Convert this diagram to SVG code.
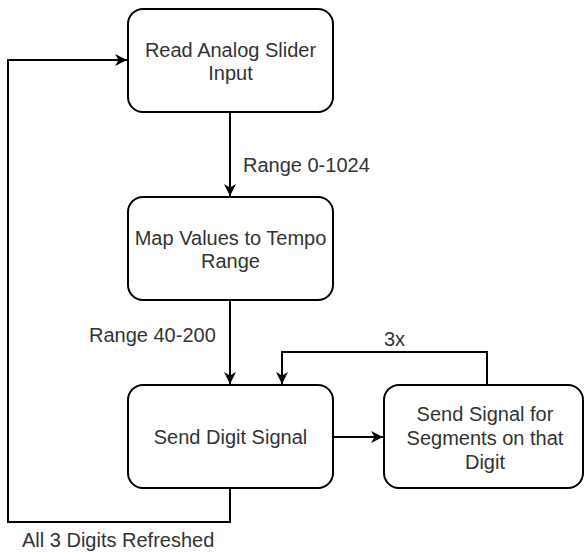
<svg xmlns="http://www.w3.org/2000/svg" width="584" height="552" viewBox="0 0 584 552">
<style>
.box{fill:#fff;stroke:#000;stroke-width:2}
.t{font-family:"Liberation Sans",Arial,sans-serif;font-size:20px;fill:#333;text-anchor:middle}
.l{font-family:"Liberation Sans",Arial,sans-serif;font-size:20px;fill:#333}
.c{fill:none;stroke:#000;stroke-width:2}
</style>
<defs>
<marker id="a" viewBox="0 0 10 10" refX="10" refY="5" markerWidth="12" markerHeight="12" markerUnits="userSpaceOnUse" orient="auto">
<path d="M0,0 L10,5 L0,10 L3,5 Z" fill="#000"/>
</marker>
</defs>
<rect width="584" height="552" fill="#fff"/>
<g id="connectors">
<path class="c" d="M230,112 V196" marker-end="url(#a)"/>
<path class="c" d="M230,300 V384" marker-end="url(#a)"/>
<path class="c" d="M487,385 V352 H282 V384" marker-end="url(#a)"/>
<path class="c" d="M333,437 H383" marker-end="url(#a)"/>
<path class="c" d="M230,488 V522 H8 V60 H127" marker-end="url(#a)"/>
<text class="l" x="243" y="172">Range 0-1024</text>
<text class="l" x="89" y="342">Range 40-200</text>
<text class="l" x="384" y="346">3x</text>
<text class="l" x="22" y="547">All 3 Digits Refreshed</text>
</g>
<g id="n1">
<rect class="box" x="128" y="9" width="205" height="103" rx="15"/>
<text class="t" x="230.5" y="57">Read Analog Slider</text>
<text class="t" x="230.5" y="80">Input</text>
</g>
<g id="n2">
<rect class="box" x="128" y="197" width="205" height="103" rx="15"/>
<text class="t" x="230.5" y="245">Map Values to Tempo</text>
<text class="t" x="230.5" y="268">Range</text>
</g>
<g id="n3">
<rect class="box" x="128" y="385" width="205" height="103" rx="15"/>
<text class="t" x="230.5" y="444">Send Digit Signal</text>
</g>
<g id="n4">
<rect class="box" x="384" y="385" width="199" height="103" rx="15"/>
<text class="t" x="485" y="421">Send Signal for</text>
<text class="t" x="485" y="445">Segments on that</text>
<text class="t" x="485" y="469">Digit</text>
</g>
</svg>
